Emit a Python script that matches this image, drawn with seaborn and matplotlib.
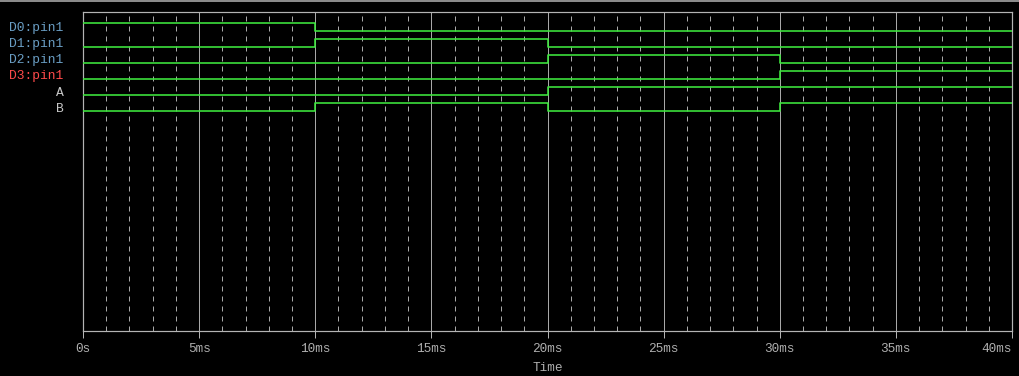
import matplotlib
matplotlib.use("Agg")
import matplotlib.pyplot as plt
from matplotlib.ticker import MultipleLocator, FixedLocator
from matplotlib.lines import Line2D
import seaborn as sns
import pandas as pd

# ---- data -------------------------------------------------------------
signals = ["D0:pin1", "D1:pin1", "D2:pin1", "D3:pin1", "A", "B"]
seg_times = [0, 10, 20, 30, 40]          # ms, segment boundaries
D0 = [1, 0, 0, 0]
D1 = [0, 1, 0, 0]
D2 = [0, 0, 1, 0]
D3 = [0, 0, 0, 1]
A = [0, 0, 1, 1]
B = [0, 1, 0, 1]
values = [D0, D1, D2, D3, A, B]
xticks = [0, 5, 10, 15, 20, 25, 30, 35, 40]
xticklabels = ["0s", "5ms", "10ms", "15ms", "20ms", "25ms", "30ms", "35ms", "40ms"]
label_colors = ["#6a9ec4", "#6a9ec4", "#6a9ec4", "#ff4a4a", "#c8c8c8", "#c8c8c8"]

# ---- long table -------------------------------------------------------
rows = []
for i, (name, vals) in enumerate(zip(signals, values)):
    pts = list(vals) + [vals[-1]]
    for t, v in zip(seg_times, pts):
        rows.append({"time": t, "signal": name, "y": i + 0.5 * (1 - v)})
df = pd.DataFrame(rows)

# ---- figure -----------------------------------------------------------
sns.set_style("dark")
plt.rcParams["font.family"] = ["Liberation Mono", "DejaVu Sans Mono"]
BG = "#000000"
GRID = "#a8a8a8"
FRAME = "#b4b4b4"
TXT = "#b0b0b0"
GREEN = "#3ee83e"
px = 0.72

fig = plt.figure(figsize=(10.2, 3.76), dpi=100, facecolor=BG)
ax = fig.add_axes([83 / 1020, 1 - 331 / 376, (1012 - 83) / 1020, (331 - 12) / 376])
ax.set_facecolor(BG)

sns.lineplot(data=df, x="time", y="y", hue="signal", units="signal",
             estimator=None, sort=False, palette=[GREEN] * len(signals),
             drawstyle="steps-post", linewidth=1.6 * px, legend=False,
             ax=ax, zorder=5)

ax.set_xlim(0, 40)
ax.set_ylim(-0.6875 + 319 / 16, -0.6875)

# x axis
ax.xaxis.set_major_locator(FixedLocator(xticks))
ax.set_xticklabels(xticklabels)
ax.xaxis.set_minor_locator(MultipleLocator(1))
ax.tick_params(axis="x", which="major", length=5, width=px, color=FRAME,
               colors=TXT, labelsize=9.2, pad=4, direction="out", bottom=True)
ax.tick_params(axis="x", which="minor", length=0)
ax.get_xticklabels()[-1].set_horizontalalignment("right")
ax.grid(which="major", axis="x", color=GRID, linewidth=px, linestyle="-")
ax.grid(which="minor", axis="x", color=GRID, linewidth=px, linestyle=(0, (5, 5)))
ax.grid(which="major", axis="y", visible=False)

# y axis labels
ax.set_yticks([i + 0.25 for i in range(len(signals))])
ax.set_yticklabels(signals)
ax.tick_params(axis="y", length=0, pad=14, labelsize=9.4)
for lbl, c in zip(ax.get_yticklabels(), label_colors):
    lbl.set_color(c)

ax.set_xlabel("Time", color=TXT, fontsize=9.2, labelpad=5)
ax.set_ylabel("")

for s in ax.spines.values():
    s.set_visible(True)
    s.set_color(FRAME)
    s.set_linewidth(px * 1.2)

# window top border
fig.add_artist(Line2D([0, 1], [1 - 1 / 376, 1 - 1 / 376], transform=fig.transFigure,
                      color="#8a8a8a", linewidth=2 * px))

fig.savefig("out.png", dpi=100, facecolor=BG)
